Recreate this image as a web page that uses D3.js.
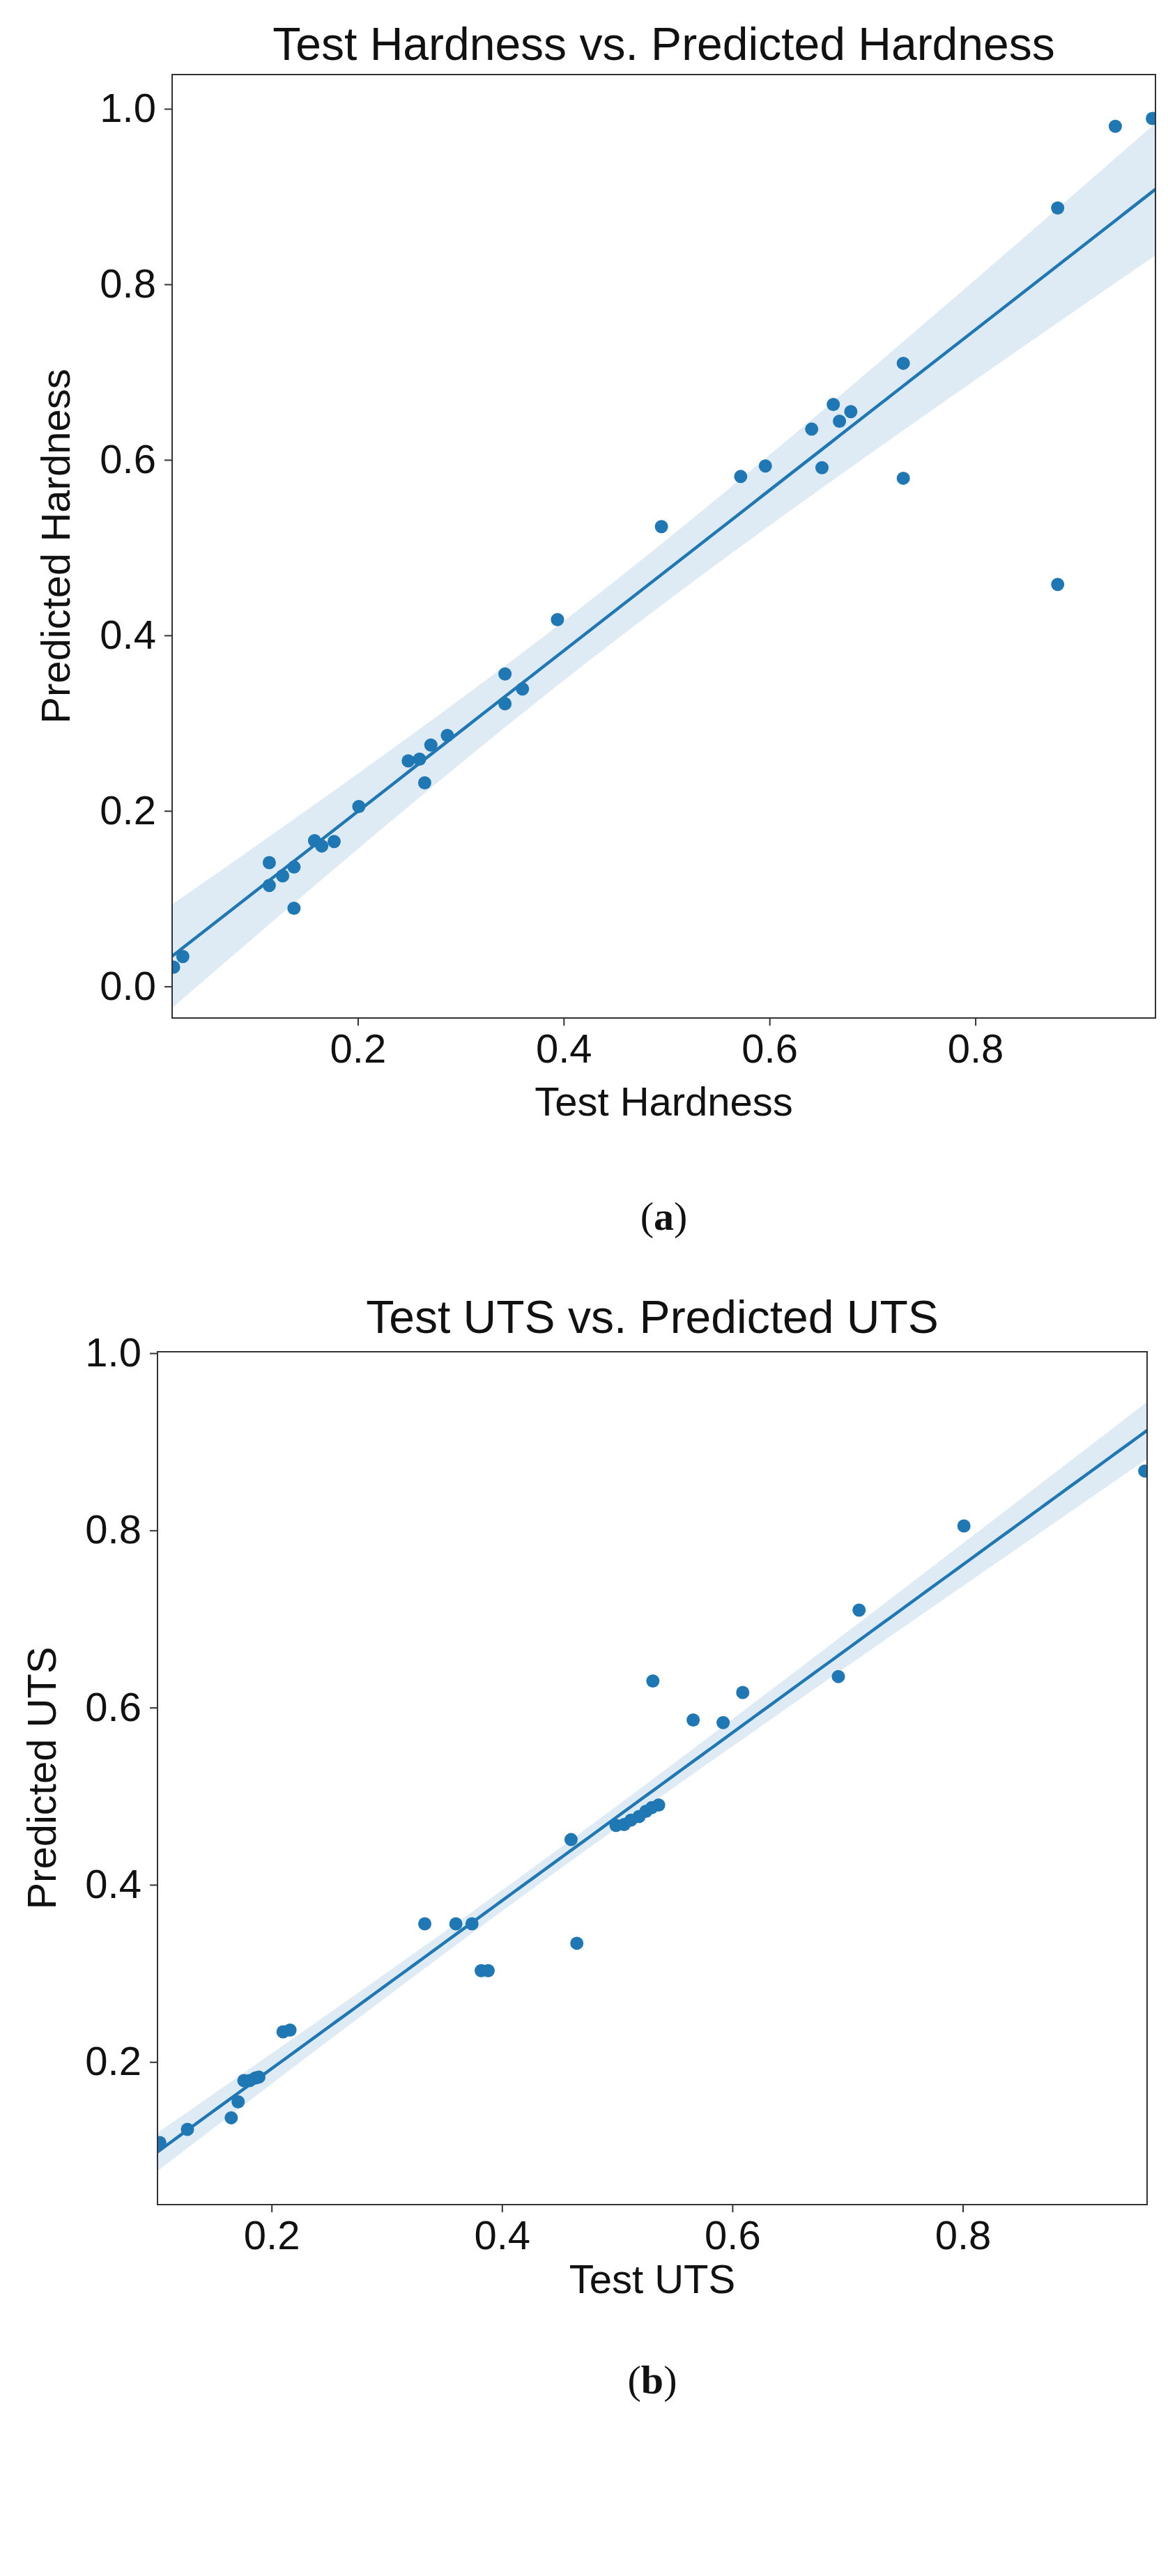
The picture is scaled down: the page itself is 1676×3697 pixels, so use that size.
<!DOCTYPE html>
<html><head><meta charset="utf-8">
<script src="https://cdn.jsdelivr.net/npm/d3@7"></script>
<style>body{margin:0;background:#fff}</style></head>
<body><svg id="c" width="1676" height="3697"></svg>
<script>
const hardX=[0.021,0.030,0.114,0.114,0.127,0.138,0.138,0.158,0.165,0.177,0.201,0.249,0.260,0.265,0.271,0.287,0.343,0.343,0.360,0.394,0.495,0.572,0.596,0.641,0.651,0.662,0.668,0.679,0.730,0.730,0.880,0.880,0.936,0.972];
const hardY=[0.022,0.034,0.141,0.115,0.126,0.136,0.089,0.166,0.160,0.165,0.205,0.257,0.259,0.232,0.275,0.286,0.356,0.322,0.339,0.418,0.524,0.581,0.593,0.635,0.591,0.663,0.644,0.655,0.710,0.579,0.887,0.458,0.980,0.989];
const utsX=[0.103,0.127,0.165,0.171,0.176,0.181,0.186,0.189,0.210,0.216,0.333,0.360,0.374,0.382,0.388,0.460,0.465,0.499,0.506,0.512,0.519,0.525,0.530,0.536,0.531,0.566,0.592,0.609,0.692,0.710,0.801,0.958];
const utsY=[0.109,0.124,0.137,0.155,0.179,0.179,0.182,0.183,0.234,0.236,0.356,0.356,0.356,0.303,0.303,0.451,0.334,0.467,0.468,0.473,0.477,0.483,0.487,0.490,0.630,0.586,0.583,0.617,0.635,0.710,0.805,0.867];
const xTicks=[0.2,0.4,0.6,0.8];
const hardYTicks=[0.0,0.2,0.4,0.6,0.8,1.0];
const utsYTicks=[0.2,0.4,0.6,0.8,1.0];

const svg=d3.select("#c");
const C="#1f77b4", F="Arial, 'Liberation Sans', sans-serif";

function panel(o){
  const g=svg.append("g");
  const x=d3.scaleLinear().domain(o.xd).range([o.l,o.r]);
  const y=d3.scaleLinear().domain(o.yd).range([o.b,o.t]);
  const n=o.X.length, mx=d3.mean(o.X), my=d3.mean(o.Y);
  let sxx=0,sxy=0; o.X.forEach((v,i)=>{sxx+=(v-mx)**2;sxy+=(v-mx)*(o.Y[i]-my);});
  const m=sxy/sxx, c=my-m*mx;
  let sse=0; o.X.forEach((v,i)=>{sse+=(o.Y[i]-(m*v+c))**2;});
  const se=Math.sqrt(sse/(n-2));
  const xs=d3.range(0,101).map(i=>o.xd[0]+(o.xd[1]-o.xd[0])*i/100);
  const hw=v=>o.k*2*se*Math.sqrt(1/n+(v-mx)**2/sxx);
  g.append("clipPath").attr("id","cl"+o.id).append("rect").attr("x",o.l).attr("y",o.t).attr("width",o.r-o.l).attr("height",o.b-o.t);
  const pg=g.append("g").attr("clip-path",`url(#cl${o.id})`);
  pg.append("path").datum(xs).attr("fill",C).attr("fill-opacity",0.15)
    .attr("d",d3.area().x(v=>x(v)).y0(v=>y(m*v+c-hw(v))).y1(v=>y(m*v+c+hw(v))));
  pg.append("path").datum(xs).attr("fill","none").attr("stroke",C).attr("stroke-width",4.5)
    .attr("d",d3.line().x(v=>x(v)).y(v=>y(m*v+c)));
  pg.selectAll("circle").data(o.X).join("circle").attr("cx",v=>x(v)).attr("cy",(v,i)=>y(o.Y[i])).attr("r",9.5).attr("fill",C);
  g.append("rect").attr("x",o.l).attr("y",o.t).attr("width",o.r-o.l).attr("height",o.b-o.t).attr("fill","none").attr("stroke","#333").attr("stroke-width",2);
  const ax=g.append("g").attr("transform",`translate(0,${o.b})`).call(d3.axisBottom(x).tickValues(xTicks).tickFormat(d3.format(".1f")).tickSize(11).tickPadding(12));
  const ay=g.append("g").attr("transform",`translate(${o.l},0)`).call(d3.axisLeft(y).tickValues(o.yt).tickFormat(d3.format(".1f")).tickSize(11).tickPadding(12));
  [ax,ay].forEach(a=>{a.select(".domain").remove();a.selectAll("line").attr("stroke","#333").attr("stroke-width",2);
    a.selectAll("text").attr("font-family",F).attr("font-size",58).attr("fill","#111");});
  g.append("text").attr("x",(o.l+o.r)/2).attr("y",o.titleY).attr("text-anchor","middle").attr("font-family",F).attr("font-size",66).attr("fill","#111").text(o.title);
  g.append("text").attr("x",(o.l+o.r)/2).attr("y",o.xlY).attr("text-anchor","middle").attr("font-family",F).attr("font-size",58).attr("fill","#111").text(o.xl);
  g.append("text").attr("transform",`translate(${o.ylX},${(o.t+o.b)/2}) rotate(-90)`).attr("text-anchor","middle").attr("font-family",F).attr("font-size",58).attr("fill","#111").text(o.yl);
  g.append("text").attr("x",(o.l+o.r)/2).attr("y",o.capY).attr("text-anchor","middle").attr("font-family","'Liberation Serif','Times New Roman',serif").attr("font-size",58).attr("fill","#111")
    .html("(<tspan font-weight='bold'>"+o.cap+"</tspan>)");
}
panel({id:1,X:hardX,Y:hardY,xd:[0.0196,0.975],yd:[-0.036,1.039],l:247,r:1658,t:107,b:1461,yt:hardYTicks,k:1.3,
  title:"Test Hardness vs. Predicted Hardness",titleY:86,xl:"Test Hardness",xlY:1601,yl:"Predicted Hardness",ylX:100,cap:"a",capY:1765});
panel({id:2,X:utsX,Y:utsY,xd:[0.101,0.96],yd:[0.039,1.0016],l:226,r:1646,t:1940,b:3164,yt:utsYTicks,k:0.8,
  title:"Test UTS vs. Predicted UTS",titleY:1913,xl:"Test UTS",xlY:3291,yl:"Predicted UTS",ylX:80,cap:"b",capY:3435});
</script></body></html>
